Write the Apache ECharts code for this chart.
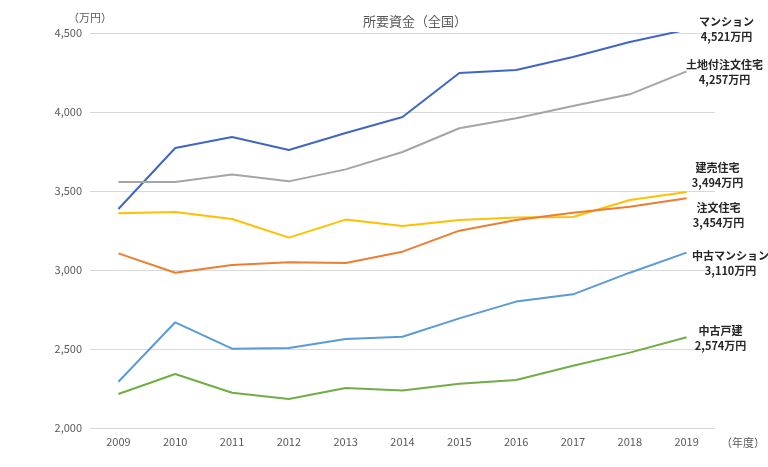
<!DOCTYPE html>
<html>
<head>
<meta charset="utf-8">
<script src="https://cdn.jsdelivr.net/npm/echarts@6/dist/echarts.min.js"></script>
<style>
  html, body { margin: 0; padding: 0; background: #fff; }
  #main { width: 768px; height: 467px; }
</style>
</head>
<body>
<div id="main"></div>
<script>
var years = ['2009', '2010', '2011', '2012', '2013', '2014', '2015', '2016', '2017', '2018', '2019'];

var mansion      = [3386, 3772, 3842, 3759, 3867, 3968, 4247, 4266, 4348, 4443, 4521];
var landOrder    = [3557, 3557, 3605, 3561, 3637, 3747, 3897, 3960, 4038, 4112, 4257];
var readyBuilt   = [3359, 3367, 3323, 3205, 3319, 3278, 3316, 3333, 3335, 3443, 3494];
var orderHouse   = [3105, 2983, 3032, 3049, 3044, 3116, 3249, 3316, 3362, 3400, 3454];
var usedMansion  = [2293, 2669, 2502, 2506, 2563, 2578, 2694, 2800, 2846, 2983, 3110];
var usedHouse    = [2215, 2342, 2223, 2184, 2253, 2238, 2280, 2304, 2394, 2477, 2574];

var FONT = '"Noto Sans CJK JP", "Noto Sans", sans-serif';

function fmt(v) {
    return String(v).replace(/\B(?=(\d{3})+(?!\d))/g, ',');
}

// ラベルは系列の右端に2行で表示
function makeSeries(name, data, color, offset) {
    return {
        name: name,
        type: 'line',
        data: data,
        symbol: 'none',
        smooth: false,
        lineStyle: { color: color, width: 2 },
        itemStyle: { color: color },
        labelLayout: { hideOverlap: false, moveOverlap: false },
        endLabel: {
            show: true,
            distance: 0,
            offset: offset,
            align: 'center',
            verticalAlign: 'middle',
            color: '#262626',
            fontFamily: FONT,
            fontWeight: 'bold',
            fontSize: 11,
            lineHeight: 15,
            formatter: function (p) {
                return p.seriesName + '\n' + fmt(p.value) + '万円';
            }
        }
    };
}

var chart = echarts.init(document.getElementById('main'));
var option = {
    animation: false,
    title: {
        text: '所要資金（全国）',
        left: 410,
        top: 10,
        textAlign: 'center',
        textStyle: { color: '#595959', fontSize: 13, fontWeight: 'normal', fontFamily: FONT }
    },
    grid: { left: 90, right: 50, top: 33, bottom: 39 },
    xAxis: {
        type: 'category',
        data: years,
        boundaryGap: true,
        name: '（年度）',
        nameLocation: 'end',
        nameGap: 6,
        nameTextStyle: { color: '#595959', fontSize: 11, fontFamily: FONT, verticalAlign: 'top', padding: [9, 0, 0, 0] },
        axisLine: { show: false },
        axisTick: { show: false },
        axisLabel: { color: '#595959', fontSize: 11, fontFamily: FONT, margin: 8 }
    },
    yAxis: {
        type: 'value',
        min: 2000,
        max: 4500,
        interval: 500,
        name: '（万円）',
        nameLocation: 'end',
        nameGap: 10,
        nameTextStyle: { color: '#595959', fontSize: 11, fontFamily: FONT, align: 'center', padding: [0, 0, 0, 0] },
        axisLine: { show: false },
        axisTick: { show: false },
        splitLine: { lineStyle: { color: '#d9d9d9', width: 1 } },
        axisLabel: {
            color: '#595959', fontSize: 11, fontFamily: FONT, margin: 8,
            formatter: function (v) { return fmt(v); }
        }
    },
    series: [
        makeSeries('マンション', mansion, '#4066c4', [40, 0]),
        makeSeries('土地付注文住宅', landOrder, '#a5a5a5', [38, 1]),
        makeSeries('建売住宅', readyBuilt, '#ffc000', [31, -17]),
        makeSeries('注文住宅', orderHouse, '#ed7d31', [32, 17]),
        makeSeries('中古マンション', usedMansion, '#5b9bd5', [44, 11]),
        makeSeries('中古戸建', usedHouse, '#70ad47', [34, 1])
    ]
};
chart.setOption(option);
</script>
</body>
</html>
